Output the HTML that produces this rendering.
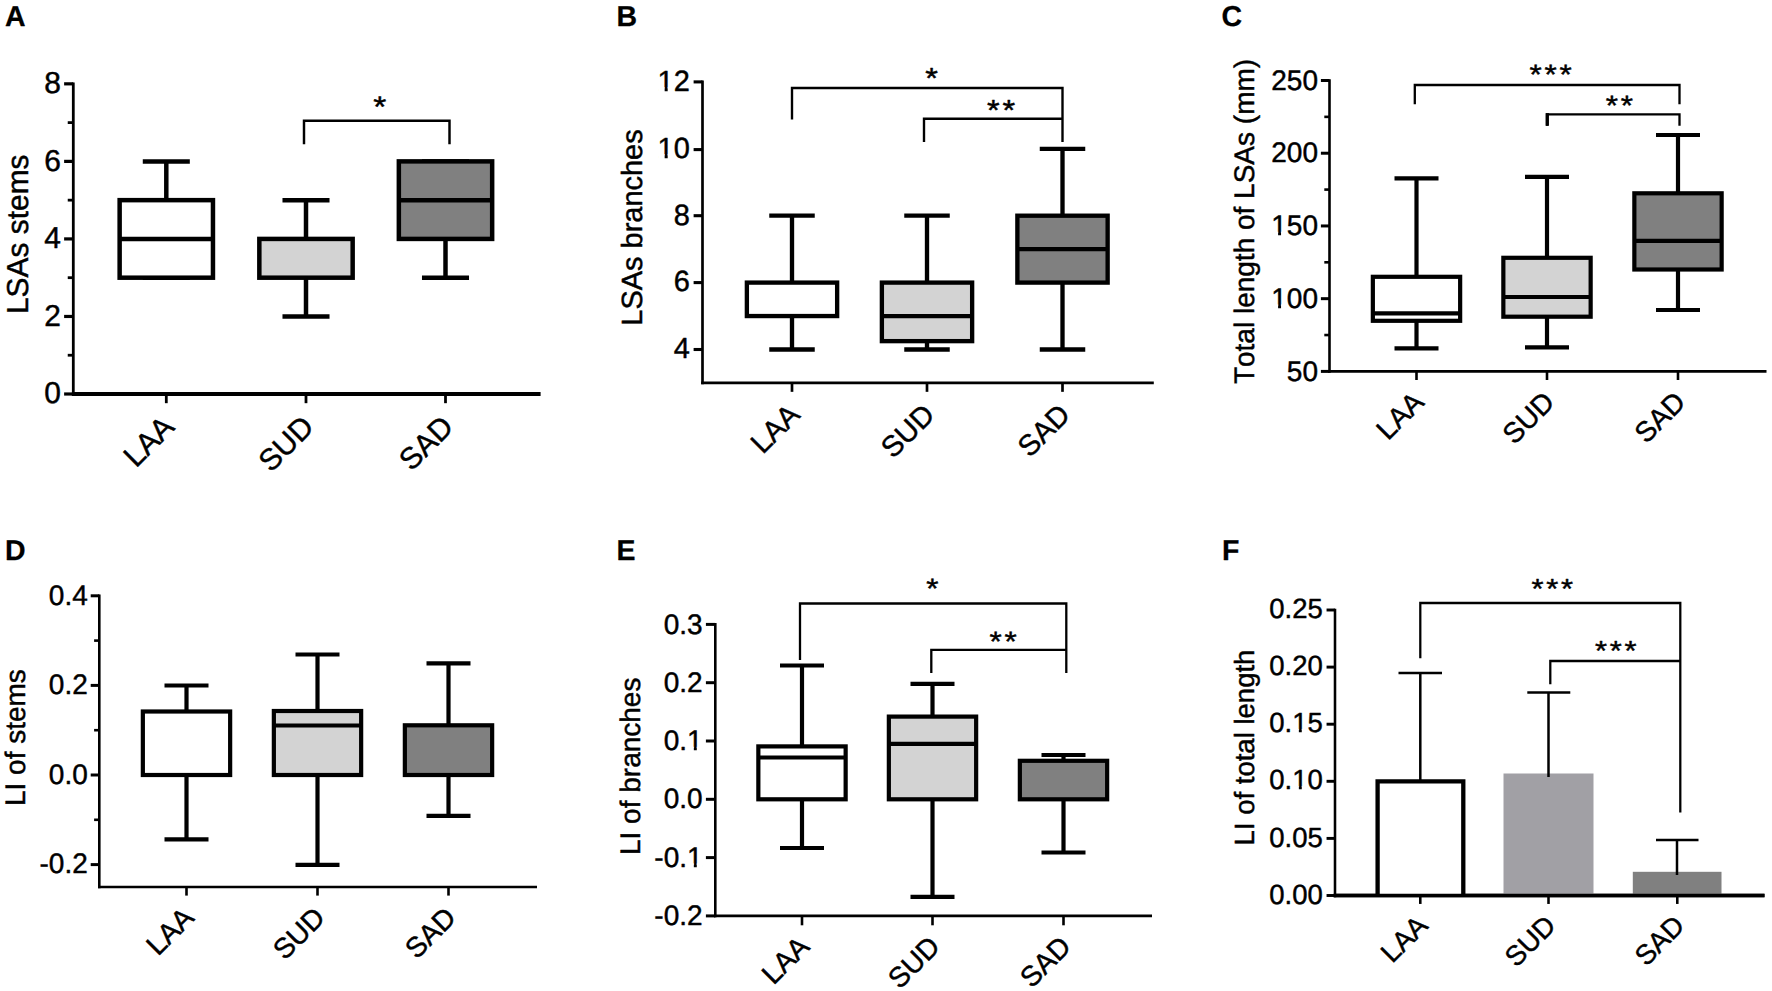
<!DOCTYPE html>
<html lang="en">
<head>
<meta charset="utf-8">
<title>Figure</title>
<style>
html,body{margin:0;padding:0;background:#fff;}
body{width:1772px;height:991px;overflow:hidden;}
svg{display:block;}
svg text{font-family:"Liberation Sans",Arial,Helvetica,sans-serif;fill:#000;text-rendering:geometricPrecision;stroke:#000;stroke-width:0.45px;stroke-linejoin:round;font-kerning:none;}
svg text[font-weight="bold"]{stroke-width:0.25px;}
</style>
</head>
<body>
<svg width="1772" height="991" viewBox="0 0 1772 991">
<rect x="0" y="0" width="1772" height="991" fill="#fff"/>
<text transform="translate(5.00,26.00) scale(1,1.01)" font-size="28.50" text-anchor="start" font-weight="bold">A</text>
<line x1="73.30" y1="82.45" x2="73.30" y2="395.90" stroke="#000" stroke-width="2.78"/>
<line x1="71.91" y1="394.00" x2="540.60" y2="394.00" stroke="#000" stroke-width="3.80"/>
<line x1="64.11" y1="394.00" x2="73.30" y2="394.00" stroke="#000" stroke-width="3.20"/>
<text transform="translate(61.01,403.40) scale(1,1.01)" font-size="29.93" text-anchor="end">0</text>
<line x1="64.11" y1="316.46" x2="73.30" y2="316.46" stroke="#000" stroke-width="3.20"/>
<text transform="translate(61.01,325.86) scale(1,1.01)" font-size="29.93" text-anchor="end">2</text>
<line x1="64.11" y1="238.92" x2="73.30" y2="238.92" stroke="#000" stroke-width="3.20"/>
<text transform="translate(61.01,248.32) scale(1,1.01)" font-size="29.93" text-anchor="end">4</text>
<line x1="64.11" y1="161.38" x2="73.30" y2="161.38" stroke="#000" stroke-width="3.20"/>
<text transform="translate(61.01,170.78) scale(1,1.01)" font-size="29.93" text-anchor="end">6</text>
<line x1="64.11" y1="83.84" x2="73.30" y2="83.84" stroke="#000" stroke-width="3.20"/>
<text transform="translate(61.01,93.24) scale(1,1.01)" font-size="29.93" text-anchor="end">8</text>
<line x1="67.74" y1="355.23" x2="73.30" y2="355.23" stroke="#000" stroke-width="2.78"/>
<line x1="67.74" y1="277.69" x2="73.30" y2="277.69" stroke="#000" stroke-width="2.78"/>
<line x1="67.74" y1="200.15" x2="73.30" y2="200.15" stroke="#000" stroke-width="2.78"/>
<line x1="67.74" y1="122.61" x2="73.30" y2="122.61" stroke="#000" stroke-width="2.78"/>
<text transform="translate(28.00,234.30) rotate(-90) scale(1,1.01)" font-size="29.93" text-anchor="middle">LSAs stems</text>
<line x1="166.30" y1="394.00" x2="166.30" y2="403.19" stroke="#000" stroke-width="2.78"/>
<text transform="translate(175.92,428.53) rotate(-45) scale(1,1.01)" font-size="29.93" text-anchor="end">LAA</text>
<line x1="306.00" y1="394.00" x2="306.00" y2="403.19" stroke="#000" stroke-width="2.78"/>
<text transform="translate(315.62,428.53) rotate(-45) scale(1,1.01)" font-size="29.93" text-anchor="end">SUD</text>
<line x1="445.50" y1="394.00" x2="445.50" y2="403.19" stroke="#000" stroke-width="2.78"/>
<text transform="translate(455.12,428.53) rotate(-45) scale(1,1.01)" font-size="29.93" text-anchor="end">SAD</text>
<line x1="166.30" y1="161.38" x2="166.30" y2="200.15" stroke="#000" stroke-width="4.49"/>
<line x1="166.30" y1="277.69" x2="166.30" y2="277.69" stroke="#000" stroke-width="4.49"/>
<line x1="142.78" y1="161.38" x2="189.82" y2="161.38" stroke="#000" stroke-width="4.49"/>
<line x1="142.78" y1="277.69" x2="189.82" y2="277.69" stroke="#000" stroke-width="4.49"/>
<rect x="119.64" y="200.15" width="93.32" height="77.54" fill="#fff" stroke="#000" stroke-width="4.49"/>
<line x1="119.64" y1="238.92" x2="212.96" y2="238.92" stroke="#000" stroke-width="4.49"/>
<line x1="306.00" y1="200.15" x2="306.00" y2="238.92" stroke="#000" stroke-width="4.49"/>
<line x1="306.00" y1="277.69" x2="306.00" y2="316.46" stroke="#000" stroke-width="4.49"/>
<line x1="282.48" y1="200.15" x2="329.52" y2="200.15" stroke="#000" stroke-width="4.49"/>
<line x1="282.48" y1="316.46" x2="329.52" y2="316.46" stroke="#000" stroke-width="4.49"/>
<rect x="259.34" y="238.92" width="93.32" height="38.77" fill="#d3d3d3" stroke="#000" stroke-width="4.49"/>
<line x1="445.50" y1="161.38" x2="445.50" y2="161.38" stroke="#000" stroke-width="4.49"/>
<line x1="445.50" y1="238.92" x2="445.50" y2="277.69" stroke="#000" stroke-width="4.49"/>
<line x1="421.98" y1="161.38" x2="469.02" y2="161.38" stroke="#000" stroke-width="4.49"/>
<line x1="421.98" y1="277.69" x2="469.02" y2="277.69" stroke="#000" stroke-width="4.49"/>
<rect x="398.84" y="161.38" width="93.32" height="77.54" fill="#808080" stroke="#000" stroke-width="4.49"/>
<line x1="398.84" y1="200.15" x2="492.16" y2="200.15" stroke="#000" stroke-width="4.49"/>
<polyline points="304.00,144.30 304.00,120.80 449.50,120.80 449.50,144.30" fill="none" stroke="#000" stroke-width="2.46" stroke-linejoin="miter"/>
<text transform="translate(381.20,116.89) scale(1.12,1)" font-size="29.93" text-anchor="middle" letter-spacing="2.67">*</text>
<text transform="translate(616.50,26.00) scale(1,1.01)" font-size="28.50" text-anchor="start" font-weight="bold">B</text>
<line x1="702.50" y1="80.56" x2="702.50" y2="384.29" stroke="#000" stroke-width="2.69"/>
<line x1="701.16" y1="382.95" x2="1153.80" y2="382.95" stroke="#000" stroke-width="2.69"/>
<line x1="693.61" y1="349.50" x2="702.50" y2="349.50" stroke="#000" stroke-width="3.09"/>
<text transform="translate(689.81,358.34) scale(1,1.01)" font-size="28.95" text-anchor="end">4</text>
<line x1="693.61" y1="282.60" x2="702.50" y2="282.60" stroke="#000" stroke-width="3.09"/>
<text transform="translate(689.81,291.44) scale(1,1.01)" font-size="28.95" text-anchor="end">6</text>
<line x1="693.61" y1="215.70" x2="702.50" y2="215.70" stroke="#000" stroke-width="3.09"/>
<text transform="translate(689.81,224.54) scale(1,1.01)" font-size="28.95" text-anchor="end">8</text>
<line x1="693.61" y1="149.60" x2="702.50" y2="149.60" stroke="#000" stroke-width="3.09"/>
<text transform="translate(689.81,157.64) scale(1,1.01)" font-size="28.95" text-anchor="end">10</text>
<rect x="658.51" y="154.15" width="6.14" height="5.38" fill="#fff"/>
<rect x="667.68" y="154.15" width="5.91" height="5.38" fill="#fff"/>
<line x1="693.61" y1="81.90" x2="702.50" y2="81.90" stroke="#000" stroke-width="3.09"/>
<text transform="translate(689.81,90.74) scale(1,1.01)" font-size="28.95" text-anchor="end">12</text>
<rect x="658.51" y="87.25" width="6.14" height="5.38" fill="#fff"/>
<rect x="667.68" y="87.25" width="5.91" height="5.38" fill="#fff"/>
<text transform="translate(641.60,227.50) rotate(-90) scale(1,1.01)" font-size="28.95" text-anchor="middle">LSAs branches</text>
<line x1="792.00" y1="382.95" x2="792.00" y2="391.84" stroke="#000" stroke-width="2.69"/>
<text transform="translate(801.31,416.35) rotate(-45) scale(1,1.01)" font-size="28.95" text-anchor="end">LAA</text>
<line x1="927.00" y1="382.95" x2="927.00" y2="391.84" stroke="#000" stroke-width="2.69"/>
<text transform="translate(936.31,416.35) rotate(-45) scale(1,1.01)" font-size="28.95" text-anchor="end">SUD</text>
<line x1="1062.50" y1="382.95" x2="1062.50" y2="391.84" stroke="#000" stroke-width="2.69"/>
<text transform="translate(1071.81,416.35) rotate(-45) scale(1,1.01)" font-size="28.95" text-anchor="end">SAD</text>
<line x1="792.00" y1="215.70" x2="792.00" y2="282.60" stroke="#000" stroke-width="4.34"/>
<line x1="792.00" y1="316.05" x2="792.00" y2="349.50" stroke="#000" stroke-width="4.34"/>
<line x1="769.25" y1="215.70" x2="814.75" y2="215.70" stroke="#000" stroke-width="4.34"/>
<line x1="769.25" y1="349.50" x2="814.75" y2="349.50" stroke="#000" stroke-width="4.34"/>
<rect x="746.87" y="282.60" width="90.27" height="33.45" fill="#fff" stroke="#000" stroke-width="4.34"/>
<line x1="927.00" y1="215.70" x2="927.00" y2="282.60" stroke="#000" stroke-width="4.34"/>
<line x1="927.00" y1="341.14" x2="927.00" y2="349.50" stroke="#000" stroke-width="4.34"/>
<line x1="904.25" y1="215.70" x2="949.75" y2="215.70" stroke="#000" stroke-width="4.34"/>
<line x1="904.25" y1="349.50" x2="949.75" y2="349.50" stroke="#000" stroke-width="4.34"/>
<rect x="881.87" y="282.60" width="90.27" height="58.54" fill="#d3d3d3" stroke="#000" stroke-width="4.34"/>
<line x1="881.87" y1="316.05" x2="972.13" y2="316.05" stroke="#000" stroke-width="4.34"/>
<line x1="1062.50" y1="148.80" x2="1062.50" y2="215.70" stroke="#000" stroke-width="4.34"/>
<line x1="1062.50" y1="282.60" x2="1062.50" y2="349.50" stroke="#000" stroke-width="4.34"/>
<line x1="1039.75" y1="148.80" x2="1085.25" y2="148.80" stroke="#000" stroke-width="4.34"/>
<line x1="1039.75" y1="349.50" x2="1085.25" y2="349.50" stroke="#000" stroke-width="4.34"/>
<rect x="1017.37" y="215.70" width="90.27" height="66.90" fill="#808080" stroke="#000" stroke-width="4.34"/>
<line x1="1017.37" y1="249.15" x2="1107.63" y2="249.15" stroke="#000" stroke-width="4.34"/>
<polyline points="792.00,119.50 792.00,88.00 1062.50,88.00 1062.50,142.00" fill="none" stroke="#000" stroke-width="2.38" stroke-linejoin="miter"/>
<polyline points="924.00,142.00 924.00,118.80 1062.50,118.80" fill="none" stroke="#000" stroke-width="2.38" stroke-linejoin="miter"/>
<text transform="translate(933.00,88.39) scale(1.12,1)" font-size="28.95" text-anchor="middle" letter-spacing="2.58">*</text>
<text transform="translate(1002.50,120.14) scale(1.12,1)" font-size="28.95" text-anchor="middle" letter-spacing="2.58">**</text>
<text transform="translate(1221.50,26.00) scale(1,1.01)" font-size="28.50" text-anchor="start" font-weight="bold">C</text>
<line x1="1329.50" y1="79.20" x2="1329.50" y2="372.70" stroke="#000" stroke-width="2.60"/>
<line x1="1328.20" y1="371.40" x2="1766.50" y2="371.40" stroke="#000" stroke-width="2.60"/>
<line x1="1320.90" y1="371.40" x2="1329.50" y2="371.40" stroke="#000" stroke-width="2.99"/>
<text transform="translate(1318.00,380.59) scale(1,1.01)" font-size="28.00" text-anchor="end">50</text>
<line x1="1320.90" y1="298.67" x2="1329.50" y2="298.67" stroke="#000" stroke-width="2.99"/>
<text transform="translate(1318.00,307.87) scale(1,1.01)" font-size="28.00" text-anchor="end">100</text>
<rect x="1272.12" y="304.45" width="5.97" height="5.31" fill="#fff"/>
<rect x="1281.04" y="304.45" width="5.75" height="5.31" fill="#fff"/>
<line x1="1320.90" y1="225.95" x2="1329.50" y2="225.95" stroke="#000" stroke-width="2.99"/>
<text transform="translate(1318.00,235.14) scale(1,1.01)" font-size="28.00" text-anchor="end">150</text>
<rect x="1272.12" y="231.73" width="5.97" height="5.31" fill="#fff"/>
<rect x="1281.04" y="231.73" width="5.75" height="5.31" fill="#fff"/>
<line x1="1320.90" y1="153.22" x2="1329.50" y2="153.22" stroke="#000" stroke-width="2.99"/>
<text transform="translate(1318.00,162.42) scale(1,1.01)" font-size="28.00" text-anchor="end">200</text>
<line x1="1320.90" y1="80.50" x2="1329.50" y2="80.50" stroke="#000" stroke-width="2.99"/>
<text transform="translate(1318.00,89.69) scale(1,1.01)" font-size="28.00" text-anchor="end">250</text>
<line x1="1324.30" y1="335.04" x2="1329.50" y2="335.04" stroke="#000" stroke-width="2.60"/>
<line x1="1324.30" y1="262.31" x2="1329.50" y2="262.31" stroke="#000" stroke-width="2.60"/>
<line x1="1324.30" y1="189.59" x2="1329.50" y2="189.59" stroke="#000" stroke-width="2.60"/>
<line x1="1324.30" y1="116.86" x2="1329.50" y2="116.86" stroke="#000" stroke-width="2.60"/>
<text transform="translate(1253.80,221.50) rotate(-90) scale(1,1.01)" font-size="28.00" text-anchor="middle">Total length of LSAs (mm)</text>
<line x1="1416.50" y1="371.40" x2="1416.50" y2="380.00" stroke="#000" stroke-width="2.60"/>
<text transform="translate(1425.50,403.70) rotate(-45) scale(1,1.01)" font-size="28.00" text-anchor="end">LAA</text>
<line x1="1547.00" y1="371.40" x2="1547.00" y2="380.00" stroke="#000" stroke-width="2.60"/>
<text transform="translate(1556.00,403.70) rotate(-45) scale(1,1.01)" font-size="28.00" text-anchor="end">SUD</text>
<line x1="1678.00" y1="371.40" x2="1678.00" y2="380.00" stroke="#000" stroke-width="2.60"/>
<text transform="translate(1687.00,403.70) rotate(-45) scale(1,1.01)" font-size="28.00" text-anchor="end">SAD</text>
<line x1="1416.50" y1="178.30" x2="1416.50" y2="276.80" stroke="#000" stroke-width="4.20"/>
<line x1="1416.50" y1="320.80" x2="1416.50" y2="348.40" stroke="#000" stroke-width="4.20"/>
<line x1="1394.50" y1="178.30" x2="1438.50" y2="178.30" stroke="#000" stroke-width="4.20"/>
<line x1="1394.50" y1="348.40" x2="1438.50" y2="348.40" stroke="#000" stroke-width="4.20"/>
<rect x="1372.85" y="276.80" width="87.30" height="44.00" fill="#fff" stroke="#000" stroke-width="4.20"/>
<line x1="1372.85" y1="313.30" x2="1460.15" y2="313.30" stroke="#000" stroke-width="4.20"/>
<line x1="1547.00" y1="176.80" x2="1547.00" y2="257.80" stroke="#000" stroke-width="4.20"/>
<line x1="1547.00" y1="316.70" x2="1547.00" y2="347.30" stroke="#000" stroke-width="4.20"/>
<line x1="1525.00" y1="176.80" x2="1569.00" y2="176.80" stroke="#000" stroke-width="4.20"/>
<line x1="1525.00" y1="347.30" x2="1569.00" y2="347.30" stroke="#000" stroke-width="4.20"/>
<rect x="1503.35" y="257.80" width="87.30" height="58.90" fill="#d3d3d3" stroke="#000" stroke-width="4.20"/>
<line x1="1503.35" y1="297.00" x2="1590.65" y2="297.00" stroke="#000" stroke-width="4.20"/>
<line x1="1678.00" y1="135.00" x2="1678.00" y2="193.30" stroke="#000" stroke-width="4.20"/>
<line x1="1678.00" y1="269.50" x2="1678.00" y2="310.00" stroke="#000" stroke-width="4.20"/>
<line x1="1656.00" y1="135.00" x2="1700.00" y2="135.00" stroke="#000" stroke-width="4.20"/>
<line x1="1656.00" y1="310.00" x2="1700.00" y2="310.00" stroke="#000" stroke-width="4.20"/>
<rect x="1634.35" y="193.30" width="87.30" height="76.20" fill="#808080" stroke="#000" stroke-width="4.20"/>
<line x1="1634.35" y1="240.80" x2="1721.65" y2="240.80" stroke="#000" stroke-width="4.20"/>
<polyline points="1414.80,104.30 1414.80,85.00 1679.50,85.00 1679.50,104.30" fill="none" stroke="#000" stroke-width="2.30" stroke-linejoin="miter"/>
<polyline points="1547.00,125.80 1547.00,114.30 1679.50,114.30 1679.50,125.80" fill="none" stroke="#000" stroke-width="2.30" stroke-linejoin="miter"/>
<line x1="1547.30" y1="113.15" x2="1547.30" y2="125.80" stroke="#000" stroke-width="3.30"/>
<text transform="translate(1552.00,84.10) scale(1.12,1)" font-size="28.00" text-anchor="middle" letter-spacing="2.50">***</text>
<text transform="translate(1620.80,115.10) scale(1.12,1)" font-size="28.00" text-anchor="middle" letter-spacing="2.50">**</text>
<text transform="translate(5.00,560.00) scale(1,1.01)" font-size="28.50" text-anchor="start" font-weight="bold">D</text>
<line x1="99.30" y1="594.50" x2="99.30" y2="888.30" stroke="#000" stroke-width="2.60"/>
<line x1="98.00" y1="887.00" x2="537.00" y2="887.00" stroke="#000" stroke-width="2.60"/>
<line x1="90.70" y1="595.80" x2="99.30" y2="595.80" stroke="#000" stroke-width="2.99"/>
<text transform="translate(87.80,604.59) scale(1,1.01)" font-size="28.00" text-anchor="end">0.4</text>
<line x1="90.70" y1="685.40" x2="99.30" y2="685.40" stroke="#000" stroke-width="2.99"/>
<text transform="translate(87.80,694.19) scale(1,1.01)" font-size="28.00" text-anchor="end">0.2</text>
<line x1="90.70" y1="775.00" x2="99.30" y2="775.00" stroke="#000" stroke-width="2.99"/>
<text transform="translate(87.80,783.79) scale(1,1.01)" font-size="28.00" text-anchor="end">0.0</text>
<line x1="90.70" y1="864.60" x2="99.30" y2="864.60" stroke="#000" stroke-width="2.99"/>
<text transform="translate(87.80,873.39) scale(1,1.01)" font-size="28.00" text-anchor="end">-0.2</text>
<line x1="94.10" y1="640.60" x2="99.30" y2="640.60" stroke="#000" stroke-width="2.60"/>
<line x1="94.10" y1="730.20" x2="99.30" y2="730.20" stroke="#000" stroke-width="2.60"/>
<line x1="94.10" y1="819.80" x2="99.30" y2="819.80" stroke="#000" stroke-width="2.60"/>
<text transform="translate(25.00,737.60) rotate(-90) scale(1,1.01)" font-size="28.00" text-anchor="middle">LI of stems</text>
<line x1="186.50" y1="887.00" x2="186.50" y2="895.60" stroke="#000" stroke-width="2.60"/>
<text transform="translate(195.50,919.30) rotate(-45) scale(1,1.01)" font-size="28.00" text-anchor="end">LAA</text>
<line x1="317.50" y1="887.00" x2="317.50" y2="895.60" stroke="#000" stroke-width="2.60"/>
<text transform="translate(326.50,919.30) rotate(-45) scale(1,1.01)" font-size="28.00" text-anchor="end">SUD</text>
<line x1="448.50" y1="887.00" x2="448.50" y2="895.60" stroke="#000" stroke-width="2.60"/>
<text transform="translate(457.50,919.30) rotate(-45) scale(1,1.01)" font-size="28.00" text-anchor="end">SAD</text>
<line x1="186.50" y1="685.50" x2="186.50" y2="711.50" stroke="#000" stroke-width="4.20"/>
<line x1="186.50" y1="775.00" x2="186.50" y2="839.30" stroke="#000" stroke-width="4.20"/>
<line x1="164.50" y1="685.50" x2="208.50" y2="685.50" stroke="#000" stroke-width="4.20"/>
<line x1="164.50" y1="839.30" x2="208.50" y2="839.30" stroke="#000" stroke-width="4.20"/>
<rect x="142.85" y="711.50" width="87.30" height="63.50" fill="#fff" stroke="#000" stroke-width="4.20"/>
<line x1="317.50" y1="654.50" x2="317.50" y2="711.00" stroke="#000" stroke-width="4.20"/>
<line x1="317.50" y1="775.00" x2="317.50" y2="864.80" stroke="#000" stroke-width="4.20"/>
<line x1="295.50" y1="654.50" x2="339.50" y2="654.50" stroke="#000" stroke-width="4.20"/>
<line x1="295.50" y1="864.80" x2="339.50" y2="864.80" stroke="#000" stroke-width="4.20"/>
<rect x="273.85" y="711.00" width="87.30" height="64.00" fill="#d3d3d3" stroke="#000" stroke-width="4.20"/>
<line x1="273.85" y1="725.50" x2="361.15" y2="725.50" stroke="#000" stroke-width="4.20"/>
<line x1="448.50" y1="663.30" x2="448.50" y2="725.30" stroke="#000" stroke-width="4.20"/>
<line x1="448.50" y1="775.00" x2="448.50" y2="815.80" stroke="#000" stroke-width="4.20"/>
<line x1="426.50" y1="663.30" x2="470.50" y2="663.30" stroke="#000" stroke-width="4.20"/>
<line x1="426.50" y1="815.80" x2="470.50" y2="815.80" stroke="#000" stroke-width="4.20"/>
<rect x="404.85" y="725.30" width="87.30" height="49.70" fill="#808080" stroke="#000" stroke-width="4.20"/>
<text transform="translate(616.50,560.00) scale(1,1.01)" font-size="28.50" text-anchor="start" font-weight="bold">E</text>
<line x1="715.30" y1="623.10" x2="715.30" y2="917.20" stroke="#000" stroke-width="2.60"/>
<line x1="714.00" y1="915.90" x2="1152.00" y2="915.90" stroke="#000" stroke-width="2.60"/>
<line x1="705.90" y1="624.40" x2="715.30" y2="624.40" stroke="#000" stroke-width="2.99"/>
<text transform="translate(702.60,633.59) scale(1,1.01)" font-size="28.00" text-anchor="end">0.3</text>
<line x1="705.90" y1="682.70" x2="715.30" y2="682.70" stroke="#000" stroke-width="2.99"/>
<text transform="translate(702.60,691.89) scale(1,1.01)" font-size="28.00" text-anchor="end">0.2</text>
<line x1="705.90" y1="741.00" x2="715.30" y2="741.00" stroke="#000" stroke-width="2.99"/>
<text transform="translate(702.60,750.19) scale(1,1.01)" font-size="28.00" text-anchor="end">0.1</text>
<rect x="687.86" y="746.78" width="5.97" height="5.31" fill="#fff"/>
<rect x="696.78" y="746.78" width="5.75" height="5.31" fill="#fff"/>
<line x1="705.90" y1="799.30" x2="715.30" y2="799.30" stroke="#000" stroke-width="2.99"/>
<text transform="translate(702.60,808.49) scale(1,1.01)" font-size="28.00" text-anchor="end">0.0</text>
<line x1="705.90" y1="857.60" x2="715.30" y2="857.60" stroke="#000" stroke-width="2.99"/>
<text transform="translate(702.60,866.79) scale(1,1.01)" font-size="28.00" text-anchor="end">-0.1</text>
<rect x="687.86" y="863.38" width="5.97" height="5.31" fill="#fff"/>
<rect x="696.78" y="863.38" width="5.75" height="5.31" fill="#fff"/>
<line x1="705.90" y1="915.90" x2="715.30" y2="915.90" stroke="#000" stroke-width="2.99"/>
<text transform="translate(702.60,925.09) scale(1,1.01)" font-size="28.00" text-anchor="end">-0.2</text>
<text transform="translate(640.40,766.30) rotate(-90) scale(1,1.01)" font-size="28.00" text-anchor="middle">LI of branches</text>
<line x1="802.00" y1="915.90" x2="802.00" y2="925.30" stroke="#000" stroke-width="2.60"/>
<text transform="translate(811.00,948.20) rotate(-45) scale(1,1.01)" font-size="28.00" text-anchor="end">LAA</text>
<line x1="932.50" y1="915.90" x2="932.50" y2="925.30" stroke="#000" stroke-width="2.60"/>
<text transform="translate(941.50,948.20) rotate(-45) scale(1,1.01)" font-size="28.00" text-anchor="end">SUD</text>
<line x1="1063.50" y1="915.90" x2="1063.50" y2="925.30" stroke="#000" stroke-width="2.60"/>
<text transform="translate(1072.50,948.20) rotate(-45) scale(1,1.01)" font-size="28.00" text-anchor="end">SAD</text>
<line x1="802.00" y1="665.50" x2="802.00" y2="746.40" stroke="#000" stroke-width="4.20"/>
<line x1="802.00" y1="799.30" x2="802.00" y2="848.00" stroke="#000" stroke-width="4.20"/>
<line x1="780.00" y1="665.50" x2="824.00" y2="665.50" stroke="#000" stroke-width="4.20"/>
<line x1="780.00" y1="848.00" x2="824.00" y2="848.00" stroke="#000" stroke-width="4.20"/>
<rect x="758.35" y="746.40" width="87.30" height="52.90" fill="#fff" stroke="#000" stroke-width="4.20"/>
<line x1="758.35" y1="757.50" x2="845.65" y2="757.50" stroke="#000" stroke-width="4.20"/>
<line x1="932.50" y1="683.80" x2="932.50" y2="716.60" stroke="#000" stroke-width="4.20"/>
<line x1="932.50" y1="799.30" x2="932.50" y2="896.80" stroke="#000" stroke-width="4.20"/>
<line x1="910.50" y1="683.80" x2="954.50" y2="683.80" stroke="#000" stroke-width="4.20"/>
<line x1="910.50" y1="896.80" x2="954.50" y2="896.80" stroke="#000" stroke-width="4.20"/>
<rect x="888.85" y="716.60" width="87.30" height="82.70" fill="#d3d3d3" stroke="#000" stroke-width="4.20"/>
<line x1="888.85" y1="743.80" x2="976.15" y2="743.80" stroke="#000" stroke-width="4.20"/>
<line x1="1063.50" y1="755.00" x2="1063.50" y2="760.80" stroke="#000" stroke-width="4.20"/>
<line x1="1063.50" y1="799.30" x2="1063.50" y2="852.50" stroke="#000" stroke-width="4.20"/>
<line x1="1041.50" y1="755.00" x2="1085.50" y2="755.00" stroke="#000" stroke-width="4.20"/>
<line x1="1041.50" y1="852.50" x2="1085.50" y2="852.50" stroke="#000" stroke-width="4.20"/>
<rect x="1019.85" y="760.80" width="87.30" height="38.50" fill="#808080" stroke="#000" stroke-width="4.20"/>
<polyline points="800.00,660.00 800.00,603.50 1066.30,603.50 1066.30,673.00" fill="none" stroke="#000" stroke-width="2.30" stroke-linejoin="miter"/>
<polyline points="931.30,673.00 931.30,649.80 1066.30,649.80" fill="none" stroke="#000" stroke-width="2.30" stroke-linejoin="miter"/>
<text transform="translate(933.70,597.75) scale(1.12,1)" font-size="28.00" text-anchor="middle" letter-spacing="2.50">*</text>
<text transform="translate(1004.50,650.55) scale(1.12,1)" font-size="28.00" text-anchor="middle" letter-spacing="2.50">**</text>
<text transform="translate(1222.00,560.00) scale(1,1.01)" font-size="28.50" text-anchor="start" font-weight="bold">F</text>
<line x1="1335.00" y1="608.72" x2="1335.00" y2="897.20" stroke="#000" stroke-width="2.56"/>
<line x1="1333.72" y1="895.50" x2="1764.50" y2="895.50" stroke="#000" stroke-width="3.40"/>
<line x1="1326.55" y1="895.50" x2="1335.00" y2="895.50" stroke="#000" stroke-width="2.94"/>
<text transform="translate(1322.80,903.62) scale(1,1.01)" font-size="27.52" text-anchor="end">0.00</text>
<line x1="1326.55" y1="838.40" x2="1335.00" y2="838.40" stroke="#000" stroke-width="2.94"/>
<text transform="translate(1322.80,846.52) scale(1,1.01)" font-size="27.52" text-anchor="end">0.05</text>
<line x1="1326.55" y1="781.30" x2="1335.00" y2="781.30" stroke="#000" stroke-width="2.94"/>
<text transform="translate(1322.80,789.42) scale(1,1.01)" font-size="27.52" text-anchor="end">0.10</text>
<rect x="1292.98" y="786.04" width="5.88" height="5.28" fill="#fff"/>
<rect x="1301.77" y="786.04" width="5.67" height="5.28" fill="#fff"/>
<line x1="1326.55" y1="724.20" x2="1335.00" y2="724.20" stroke="#000" stroke-width="2.94"/>
<text transform="translate(1322.80,732.32) scale(1,1.01)" font-size="27.52" text-anchor="end">0.15</text>
<rect x="1292.98" y="728.94" width="5.88" height="5.28" fill="#fff"/>
<rect x="1301.77" y="728.94" width="5.67" height="5.28" fill="#fff"/>
<line x1="1326.55" y1="667.10" x2="1335.00" y2="667.10" stroke="#000" stroke-width="2.94"/>
<text transform="translate(1322.80,675.22) scale(1,1.01)" font-size="27.52" text-anchor="end">0.20</text>
<line x1="1326.55" y1="610.00" x2="1335.00" y2="610.00" stroke="#000" stroke-width="2.94"/>
<text transform="translate(1322.80,618.12) scale(1,1.01)" font-size="27.52" text-anchor="end">0.25</text>
<text transform="translate(1254.30,747.50) rotate(-90) scale(1,1.01)" font-size="27.52" text-anchor="middle">LI of total length</text>
<line x1="1420.30" y1="895.50" x2="1420.30" y2="903.95" stroke="#000" stroke-width="2.56"/>
<text transform="translate(1429.15,927.25) rotate(-45) scale(1,1.01)" font-size="27.52" text-anchor="end">LAA</text>
<line x1="1548.50" y1="895.50" x2="1548.50" y2="903.95" stroke="#000" stroke-width="2.56"/>
<text transform="translate(1557.35,927.25) rotate(-45) scale(1,1.01)" font-size="27.52" text-anchor="end">SUD</text>
<line x1="1677.30" y1="895.50" x2="1677.30" y2="903.95" stroke="#000" stroke-width="2.56"/>
<text transform="translate(1686.15,927.25) rotate(-45) scale(1,1.01)" font-size="27.52" text-anchor="end">SAD</text>
<line x1="1420.30" y1="673.00" x2="1420.30" y2="781.00" stroke="#000" stroke-width="2.50"/>
<line x1="1398.50" y1="673.00" x2="1442.00" y2="673.00" stroke="#000" stroke-width="2.50"/>
<path d="M1377.6,895.5 V781.4 H1463.3 V895.5" fill="#fff" stroke="#000" stroke-width="4.3"/>
<rect x="1503.5" y="773.5" width="90" height="122.00" fill="#a1a0a5"/>
<line x1="1548.50" y1="692.50" x2="1548.50" y2="777.00" stroke="#000" stroke-width="2.50"/>
<line x1="1527.30" y1="692.50" x2="1570.30" y2="692.50" stroke="#000" stroke-width="2.50"/>
<rect x="1632.8" y="871.8" width="88.7" height="23.70" fill="#808080"/>
<line x1="1677.00" y1="840.00" x2="1677.00" y2="875.00" stroke="#000" stroke-width="2.50"/>
<line x1="1656.00" y1="840.00" x2="1698.50" y2="840.00" stroke="#000" stroke-width="2.50"/>
<line x1="1333.70" y1="895.50" x2="1764.50" y2="895.50" stroke="#000" stroke-width="3.40"/>
<polyline points="1420.30,658.30 1420.30,603.00 1680.30,603.00 1680.30,812.50" fill="none" stroke="#000" stroke-width="2.26" stroke-linejoin="miter"/>
<polyline points="1550.30,684.30 1550.30,661.00 1680.30,661.00" fill="none" stroke="#000" stroke-width="2.26" stroke-linejoin="miter"/>
<text transform="translate(1553.50,597.66) scale(1.12,1)" font-size="27.52" text-anchor="middle" letter-spacing="2.46">***</text>
<text transform="translate(1617.00,660.16) scale(1.12,1)" font-size="27.52" text-anchor="middle" letter-spacing="2.46">***</text>
</svg>
</body>
</html>
